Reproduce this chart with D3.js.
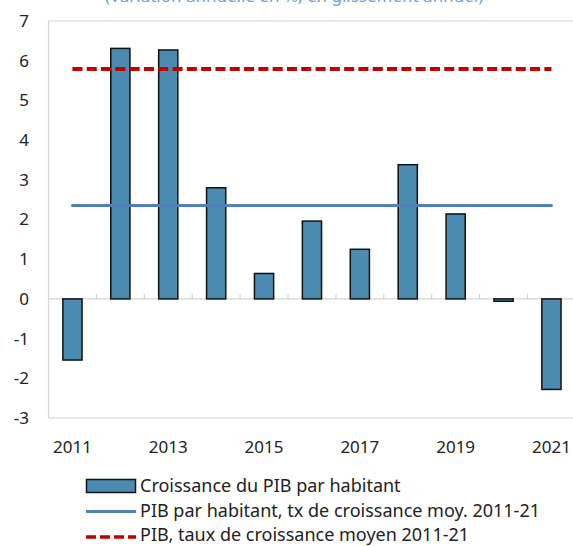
<!DOCTYPE html>
<html>
<head>
<meta charset="utf-8">
<script src="https://cdn.jsdelivr.net/npm/d3@7"></script>
<style>
  html, body { margin: 0; padding: 0; background: #fff; }
  svg { display: block; }
  text { font-family: "Noto Sans", "Open Sans", sans-serif; }
</style>
</head>
<body>
<svg id="chart" width="573" height="546"></svg>
<script>
const years = [2011, 2012, 2013, 2014, 2015, 2016, 2017, 2018, 2019, 2020, 2021];
const growthPerCapita = [-1.54, 6.31, 6.27, 2.80, 0.64, 1.96, 1.25, 3.38, 2.14, -0.06, -2.28];
const avgPerCapita = 2.35;
const avgGDP = 5.79;
const yTicks = [-3, -2, -1, 0, 1, 2, 3, 4, 5, 6, 7];
const xLabels = [2011, 2013, 2015, 2017, 2019, 2021];
const legendLabels = [
  "Croissance du PIB par habitant",
  "PIB par habitant, tx de croissance moy. 2011-21",
  "PIB, taux de croissance moyen 2011-21"
];
const titleText = "(Variation annuelle en %, en glissement annuel)";

const svg = d3.select("#chart");
const pLeft = 48.5, pRight = 575.4, pTop = 21, pBottom = 418;

const x = d3.scaleBand().domain(years).range([pLeft, pRight]).paddingInner(0.6).paddingOuter(0.3);
const xb = d3.scaleBand().domain(years).range([pLeft, pRight]).padding(0);
const y = d3.scaleLinear().domain([-3, 7]).range([pBottom, pTop]);

const barFill = "#4b8bb1", lineBlue = "#4f81b8", red = "#c00000", axisGray = "#d4d4d4";

// cut-off title (only its lower edge is visible in the original)
svg.append("text").attr("x", 294).attr("y", 2).attr("text-anchor", "middle")
  .attr("font-size", 17).attr("fill", "#6aa3d8").text(titleText);

// plot frame
svg.append("line").attr("x1", pLeft).attr("x2", pRight).attr("y1", pTop).attr("y2", pTop).attr("stroke", axisGray).attr("stroke-width", 1);
svg.append("line").attr("x1", pLeft).attr("x2", pRight).attr("y1", pBottom).attr("y2", pBottom).attr("stroke", axisGray).attr("stroke-width", 1.2);
svg.append("line").attr("x1", pLeft).attr("x2", pLeft).attr("y1", pTop).attr("y2", pBottom).attr("stroke", axisGray).attr("stroke-width", 1.2);

// zero line with category ticks
svg.append("line").attr("x1", pLeft).attr("x2", pRight).attr("y1", y(0)).attr("y2", y(0)).attr("stroke", axisGray).attr("stroke-width", 1.2);
svg.append("g").selectAll("line").data(years.slice(1)).join("line")
  .attr("x1", d => xb(d)).attr("x2", d => xb(d))
  .attr("y1", y(0)).attr("y2", y(0) - 5)
  .attr("stroke", axisGray).attr("stroke-width", 1.2);

// y labels
svg.append("g").selectAll("text").data(yTicks).join("text")
  .attr("x", 29).attr("y", d => y(d)).attr("dy", "0.35em")
  .attr("text-anchor", "end").attr("font-size", 17).attr("fill", "#222")
  .text(d => d);

// x labels
svg.append("g").selectAll("text").data(xLabels).join("text")
  .attr("x", d => x(d) + x.bandwidth() / 2).attr("y", 447).attr("dy", "0.35em")
  .attr("text-anchor", "middle").attr("font-size", 17).attr("fill", "#222")
  .text(d => d);

// bars
svg.append("g").selectAll("rect").data(years.map((yr, i) => ({yr, v: growthPerCapita[i]}))).join("rect")
  .attr("x", d => x(d.yr))
  .attr("width", x.bandwidth())
  .attr("y", d => Math.min(y(d.v), y(0)))
  .attr("height", d => Math.abs(y(d.v) - y(0)))
  .attr("fill", barFill).attr("stroke", "#111").attr("stroke-width", 1.5);

// average lines
const cx0 = xb(years[0]) + xb.bandwidth() / 2;
const cx1 = xb(years[years.length - 1]) + xb.bandwidth() / 2;
svg.append("line").attr("x1", cx0).attr("x2", cx1).attr("y1", y(avgPerCapita)).attr("y2", y(avgPerCapita))
  .attr("stroke", lineBlue).attr("stroke-width", 3).attr("stroke-linecap", "round");
svg.append("line").attr("x1", cx0).attr("x2", cx1).attr("y1", y(avgGDP)).attr("y2", y(avgGDP))
  .attr("stroke", red).attr("stroke-width", 4).attr("stroke-dasharray", "10,4.3");

// legend
const lg = svg.append("g");
lg.append("rect").attr("x", 86.5).attr("y", 479.5).attr("width", 49).attr("height", 13)
  .attr("fill", barFill).attr("stroke", "#111").attr("stroke-width", 1.5);
lg.append("line").attr("x1", 86).attr("x2", 136).attr("y1", 511.5).attr("y2", 511.5)
  .attr("stroke", lineBlue).attr("stroke-width", 3);
lg.append("line").attr("x1", 86).attr("x2", 136).attr("y1", 537).attr("y2", 537)
  .attr("stroke", red).attr("stroke-width", 3.5).attr("stroke-dasharray", "10,4");
lg.selectAll("text").data(legendLabels).join("text")
  .attr("x", 140).attr("y", (d, i) => [486, 511, 535][i]).attr("dy", "0.32em")
  .attr("font-size", 18).attr("fill", "#222").text(d => d);
</script>
</body>
</html>
